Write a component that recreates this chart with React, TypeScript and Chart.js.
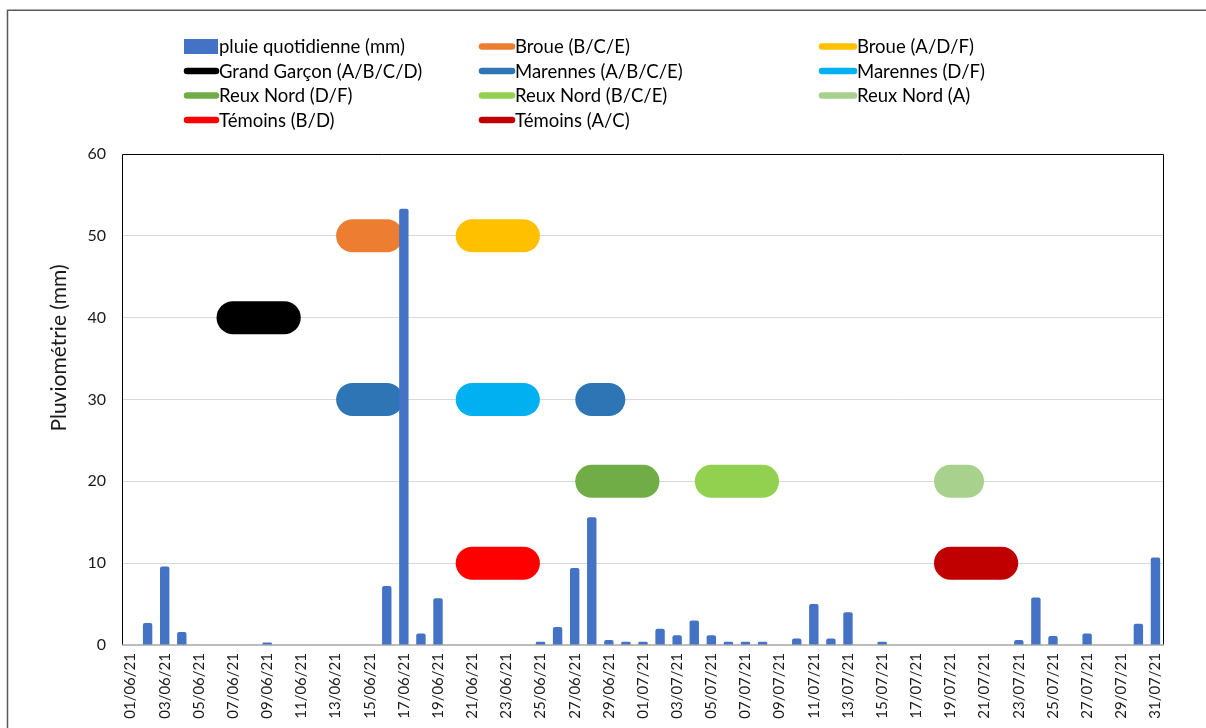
import { useEffect, useRef } from "react";
import { Chart, registerables } from "chart.js";

Chart.register(...registerables);

const FONT = "Lato, 'Noto Sans', sans-serif";

// Daily dates, 1 June to 31 July 2021
const dates = [
  "01/06/21", "02/06/21", "03/06/21", "04/06/21", "05/06/21", "06/06/21", "07/06/21", "08/06/21",
  "09/06/21", "10/06/21", "11/06/21", "12/06/21", "13/06/21", "14/06/21", "15/06/21", "16/06/21",
  "17/06/21", "18/06/21", "19/06/21", "20/06/21", "21/06/21", "22/06/21", "23/06/21", "24/06/21",
  "25/06/21", "26/06/21", "27/06/21", "28/06/21", "29/06/21", "30/06/21",
  "01/07/21", "02/07/21", "03/07/21", "04/07/21", "05/07/21", "06/07/21", "07/07/21", "08/07/21",
  "09/07/21", "10/07/21", "11/07/21", "12/07/21", "13/07/21", "14/07/21", "15/07/21", "16/07/21",
  "17/07/21", "18/07/21", "19/07/21", "20/07/21", "21/07/21", "22/07/21", "23/07/21", "24/07/21",
  "25/07/21", "26/07/21", "27/07/21", "28/07/21", "29/07/21", "30/07/21", "31/07/21",
];

// Daily rainfall (mm)
const rainfall = [
  0, 2.7, 9.6, 1.6, 0, 0, 0, 0, 0.3, 0, 0, 0, 0, 0, 0, 7.2,
  53.3, 1.4, 5.7, 0, 0, 0, 0, 0, 0.4, 2.2, 9.4, 15.6, 0.6, 0.4,
  0.4, 2.0, 1.2, 3.0, 1.2, 0.4, 0.4, 0.4, 0, 0.8, 5.0, 0.8, 4.0, 0, 0.4, 0,
  0, 0, 0, 0, 0, 0, 0.6, 5.8, 1.1, 0, 1.4, 0, 0, 2.6, 10.7,
];

const yTicks = [0, 10, 20, 30, 40, 50, 60];
const Y_TITLE = "Pluviométrie (mm)";

// Sampling periods per site: days and the level at which each band is drawn
const broueBCEDays = ["14/06/21", "15/06/21", "16/06/21"];
const broueBCELevel = 50;
const broueADFDays = ["21/06/21", "22/06/21", "23/06/21", "24/06/21"];
const broueADFLevel = 50;
const grandGarconDays = ["07/06/21", "08/06/21", "09/06/21", "10/06/21"];
const grandGarconLevel = 40;
const marennesABCEDays = ["14/06/21", "15/06/21", "16/06/21", "28/06/21", "29/06/21"];
const marennesABCELevel = 30;
const marennesDFDays = ["21/06/21", "22/06/21", "23/06/21", "24/06/21"];
const marennesDFLevel = 30;
const reuxDFDays = ["28/06/21", "29/06/21", "30/06/21", "01/07/21"];
const reuxDFLevel = 20;
const reuxBCEDays = ["05/07/21", "06/07/21", "07/07/21", "08/07/21"];
const reuxBCELevel = 20;
const reuxADays = ["19/07/21", "20/07/21"];
const reuxALevel = 20;
const temoinsBDDays = ["21/06/21", "22/06/21", "23/06/21", "24/06/21"];
const temoinsBDLevel = 10;
const temoinsACDays = ["19/07/21", "20/07/21", "21/07/21", "22/07/21"];
const temoinsACLevel = 10;

const RAIN_LABEL = "pluie quotidienne (mm)";
const RAIN_COLOR = "#4472C4";

const periods = [
  { label: "Broue (B/C/E)", color: "#ED7D31", days: broueBCEDays, level: broueBCELevel },
  { label: "Broue (A/D/F)", color: "#FFC000", days: broueADFDays, level: broueADFLevel },
  { label: "Grand Garçon (A/B/C/D)", color: "#000000", days: grandGarconDays, level: grandGarconLevel },
  { label: "Marennes (A/B/C/E)", color: "#2E75B6", days: marennesABCEDays, level: marennesABCELevel },
  { label: "Marennes (D/F)", color: "#00B0F0", days: marennesDFDays, level: marennesDFLevel },
  { label: "Reux Nord (D/F)", color: "#70AD47", days: reuxDFDays, level: reuxDFLevel },
  { label: "Reux Nord (B/C/E)", color: "#92D050", days: reuxBCEDays, level: reuxBCELevel },
  { label: "Reux Nord (A)", color: "#A9D18E", days: reuxADays, level: reuxALevel },
  { label: "Témoins (B/D)", color: "#FF0000", days: temoinsBDDays, level: temoinsBDLevel },
  { label: "Témoins (A/C)", color: "#C00000", days: temoinsACDays, level: temoinsACLevel },
];

// Outer frame, plot border, axis line, axis title and a three-column legend
const decorPlugin = {
  id: "decor",
  beforeDatasetsDraw(chart: any) {
    const { ctx, chartArea } = chart;
    const { left, right, top, bottom } = chartArea;
    ctx.save();
    ctx.strokeStyle = "#000000";
    ctx.lineWidth = 1;
    ctx.beginPath();
    ctx.moveTo(left + 0.5, bottom);
    ctx.lineTo(left + 0.5, top + 0.5);
    ctx.lineTo(right - 0.5, top + 0.5);
    ctx.lineTo(right - 0.5, bottom);
    ctx.stroke();
    ctx.strokeStyle = "#A6A6A6";
    ctx.lineWidth = 1.5;
    ctx.beginPath();
    ctx.moveTo(left, bottom);
    ctx.lineTo(right, bottom);
    ctx.stroke();
    ctx.restore();
  },
  afterDraw(chart: any) {
    const { ctx } = chart;
    ctx.save();
    // outer frame
    ctx.strokeStyle = "#595959";
    ctx.lineWidth = 1.5;
    ctx.beginPath();
    ctx.moveTo(7.5, 728);
    ctx.lineTo(7.5, 10.25);
    ctx.lineTo(1206, 10.25);
    ctx.stroke();

    // y axis title
    ctx.save();
    ctx.translate(66, 348);
    ctx.rotate(-Math.PI / 2);
    ctx.font = `21px ${FONT}`;
    ctx.fillStyle = "#1a1a1a";
    ctx.textAlign = "center";
    ctx.textBaseline = "alphabetic";
    ctx.fillText(Y_TITLE, 0, 0);
    ctx.restore();

    // legend
    const cols = [
      { mx: 184, tx: 219 },
      { mx: 479, tx: 515 },
      { mx: 819, tx: 857 },
    ];
    const rowY = [46.5, 71, 95.5, 120];
    const items = [{ label: RAIN_LABEL, color: RAIN_COLOR, box: true }, ...periods.map((p) => ({ label: p.label, color: p.color, box: false }))];
    ctx.font = `18.5px ${FONT}`;
    ctx.textBaseline = "middle";
    items.forEach((it, i) => {
      const c = cols[i % 3];
      const y = rowY[Math.floor(i / 3)];
      if (it.box) {
        ctx.fillStyle = it.color;
        ctx.fillRect(c.mx, y - 7.5, 34, 15);
      } else {
        ctx.strokeStyle = it.color;
        ctx.lineWidth = 6.5;
        ctx.lineCap = "round";
        ctx.beginPath();
        ctx.moveTo(c.mx + 3, y);
        ctx.lineTo(c.tx - 3, y);
        ctx.stroke();
      }
      ctx.fillStyle = "#000000";
      ctx.fillText(it.label, c.tx, y + 1);
    });
    ctx.restore();
  },
};

export default function App() {
  const ref = useRef<HTMLCanvasElement | null>(null);

  useEffect(() => {
    if (!ref.current) return;
    const lineSets = periods.map((p) => ({
      type: "line" as const,
      label: p.label,
      data: dates.map((d) => (p.days.includes(d) ? p.level : null)),
      borderColor: p.color,
      backgroundColor: p.color,
      borderWidth: 33,
      borderCapStyle: "round" as const,
      borderJoinStyle: "round" as const,
      pointRadius: 0,
      pointHoverRadius: 0,
      spanGaps: false,
      tension: 0,
      fill: false,
      order: 1,
    }));

    const chart = new Chart(ref.current, {
      type: "bar",
      data: {
        labels: dates,
        datasets: [
          {
            type: "bar",
            label: RAIN_LABEL,
            data: rainfall,
            backgroundColor: RAIN_COLOR,
            categoryPercentage: 1,
            barPercentage: 0.55,
            borderRadius: { topLeft: 2, topRight: 2, bottomLeft: 0, bottomRight: 0 },
            borderSkipped: false,
            order: 0,
          } as any,
          ...lineSets,
        ],
      },
      options: {
        responsive: false,
        animation: false,
        layout: { padding: { left: 45, right: 42, top: 154, bottom: 0 } },
        plugins: {
          legend: { display: false },
          tooltip: { enabled: false },
        },
        scales: {
          x: {
            offset: true,
            grid: { display: false, drawTicks: false },
            border: { display: false },
            ticks: {
              autoSkip: false,
              minRotation: 90,
              maxRotation: 90,
              padding: 8,
              color: "#1a1a1a",
              font: { family: FONT, size: 15 },
              callback: (_v: any, i: number) => (i % 2 === 0 ? dates[i] : ""),
            },
            afterFit: (s: any) => {
              s.height = 83;
            },
          },
          y: {
            min: 0,
            max: 60,
            afterBuildTicks: (s: any) => {
              s.ticks = yTicks.map((v) => ({ value: v }));
            },
            grid: {
              drawTicks: false,
              color: (c: any) => (c.tick && c.tick.value > 0 && c.tick.value < 60 ? "#D9D9D9" : "rgba(0,0,0,0)"),
              lineWidth: 1,
            },
            border: { display: false },
            ticks: {
              padding: 16,
              color: "#1a1a1a",
              font: { family: FONT, size: 16 },
            },
            title: { display: false },
            afterFit: (s: any) => {
              s.width = 77;
            },
          },
        },
      },
      plugins: [decorPlugin],
    });
    return () => chart.destroy();
  }, []);

  return (
    <div style={{ position: "absolute", left: 0, top: 0, width: 1206, height: 728, background: "#ffffff" }}>
      <canvas ref={ref} width={1206} height={728} style={{ display: "block" }} />
    </div>
  );
}
